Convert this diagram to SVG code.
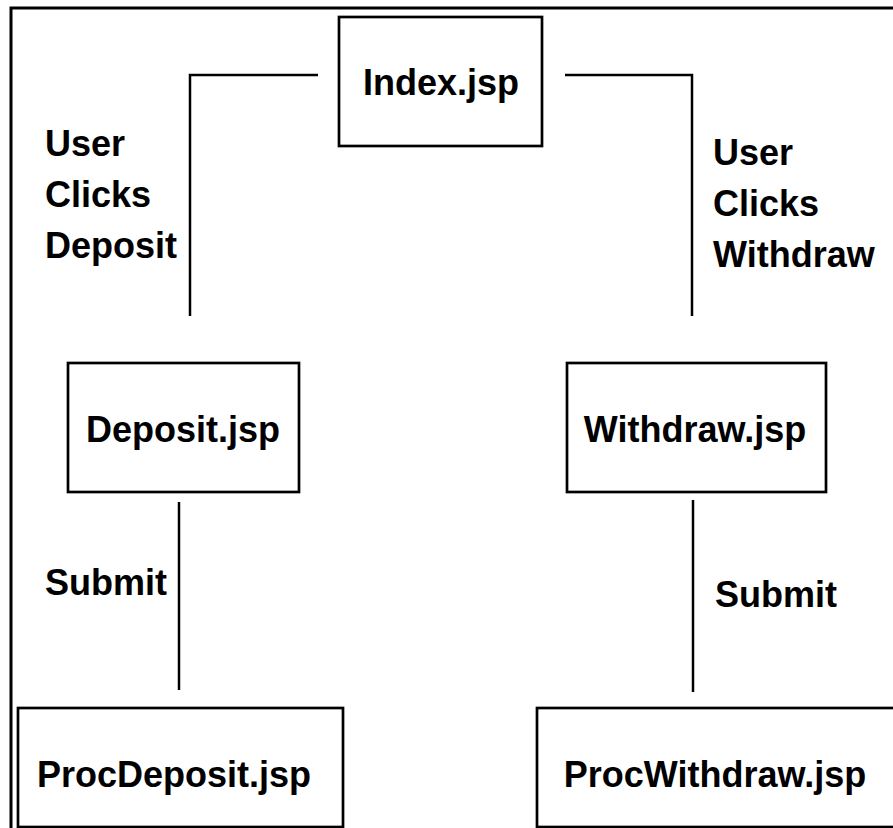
<svg xmlns="http://www.w3.org/2000/svg" width="893" height="828" viewBox="0 0 893 828">
<style>
.box{fill:#fff;stroke:#000;stroke-width:2.7}
.ln{fill:none;stroke:#000;stroke-width:2.5}
.t{font-family:"Liberation Sans",Arial,sans-serif;font-weight:bold;font-size:36px;fill:#000}
.c{text-anchor:middle}
</style>
<rect width="893" height="828" fill="#fff"/>
<path d="M11,828 V8 H893" fill="none" stroke="#000" stroke-width="3"/>
<g id="connectors">
<path class="ln" d="M318,75 H190 V316"/>
<path class="ln" d="M565,75 H692 V316"/>
<path class="ln" d="M179,502 V690"/>
<path class="ln" d="M693,500 V692"/>
</g>
<g id="labels">
<text class="t" x="45"><tspan x="45" y="156">User</tspan><tspan x="45" y="207">Clicks</tspan><tspan x="45" y="258">Deposit</tspan></text>
<text class="t" x="713"><tspan x="713" y="165">User</tspan><tspan x="713" y="216">Clicks</tspan><tspan x="713" y="267">Withdraw</tspan></text>
<text class="t" x="45" y="595">Submit</text>
<text class="t" x="715" y="607">Submit</text>
</g>
<g id="index">
<rect class="box" x="339" y="17" width="203" height="129"/>
<text class="t c" x="441" y="95">Index.jsp</text>
</g>
<g id="deposit">
<rect class="box" x="68" y="363" width="231" height="129"/>
<text class="t c" x="183" y="442">Deposit.jsp</text>
</g>
<g id="withdraw">
<rect class="box" x="567" y="363" width="259" height="129"/>
<text class="t c" x="695" y="442">Withdraw.jsp</text>
</g>
<g id="procdeposit">
<rect class="box" x="18" y="708" width="325" height="119"/>
<text class="t c" x="174" y="787">ProcDeposit.jsp</text>
</g>
<g id="procwithdraw">
<rect class="box" x="537" y="708" width="370" height="119"/>
<text class="t c" x="715" y="787">ProcWithdraw.jsp</text>
</g>
</svg>
